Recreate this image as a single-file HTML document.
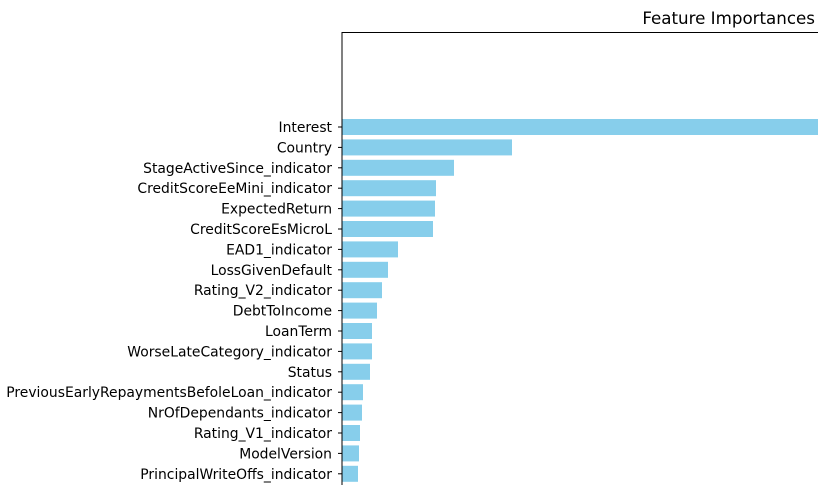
<!DOCTYPE html>
<html><head><meta charset="utf-8">
<style>
html,body{margin:0;padding:0;background:#fff;width:818px;height:485px;overflow:hidden}
svg{display:block;font-family:"DejaVu Sans","Liberation Sans",sans-serif}
</style></head>
<body>
<svg id="chart" width="818" height="485">
  <text x="815" y="24" text-anchor="end" font-size="16.7" fill="#000">Feature Importances</text>
  <g id="bars"></g>
  <g id="labels"></g>
  <line x1="342" y1="32" x2="342" y2="485" stroke="#000" stroke-width="1"/>
  <line x1="342" y1="32.5" x2="818" y2="32.5" stroke="#000" stroke-width="1"/>
</svg>
<script>
const categories = ["Interest","Country","StageActiveSince_indicator","CreditScoreEeMini_indicator","ExpectedReturn","CreditScoreEsMicroL","EAD1_indicator","LossGivenDefault","Rating_V2_indicator","DebtToIncome","LoanTerm","WorseLateCategory_indicator","Status","PreviousEarlyRepaymentsBefoleLoan_indicator","NrOfDependants_indicator","Rating_V1_indicator","ModelVersion","PrincipalWriteOffs_indicator"];
const importances = [0.240,0.085,0.056,0.047,0.0465,0.0455,0.028,0.023,0.020,0.0175,0.015,0.015,0.014,0.0105,0.010,0.009,0.0085,0.008];
const svgNS = "http://www.w3.org/2000/svg";
const x0 = 342, pxPerUnit = 2000;
function xScale(v){ return x0 + v * pxPerUnit; }
const y0 = 127, step = 20.4, barH = 16;
function yScale(i){ return y0 + i * step; }
const bars = document.getElementById('bars');
const labels = document.getElementById('labels');
categories.forEach((c, i) => {
  const r = document.createElementNS(svgNS, 'rect');
  r.setAttribute('x', x0);
  r.setAttribute('y', yScale(i) - barH/2);
  r.setAttribute('width', xScale(importances[i]) - x0);
  r.setAttribute('height', barH);
  r.setAttribute('fill', '#87ceeb');
  
  
  bars.appendChild(r);
  const tk = document.createElementNS(svgNS, 'line');
  tk.setAttribute('x1', x0 - 4); tk.setAttribute('x2', x0);
  tk.setAttribute('y1', yScale(i)); tk.setAttribute('y2', yScale(i));
  tk.setAttribute('stroke', '#000');
  
  
  labels.appendChild(tk);
  const t = document.createElementNS(svgNS, 'text');
  t.setAttribute('x', 332);
  t.setAttribute('y', yScale(i) + 5);
  t.setAttribute('text-anchor', 'end');
  t.setAttribute('font-size', '13.9');
  t.textContent = c;
  
  
  labels.appendChild(t);
});
</script>
</body></html>
